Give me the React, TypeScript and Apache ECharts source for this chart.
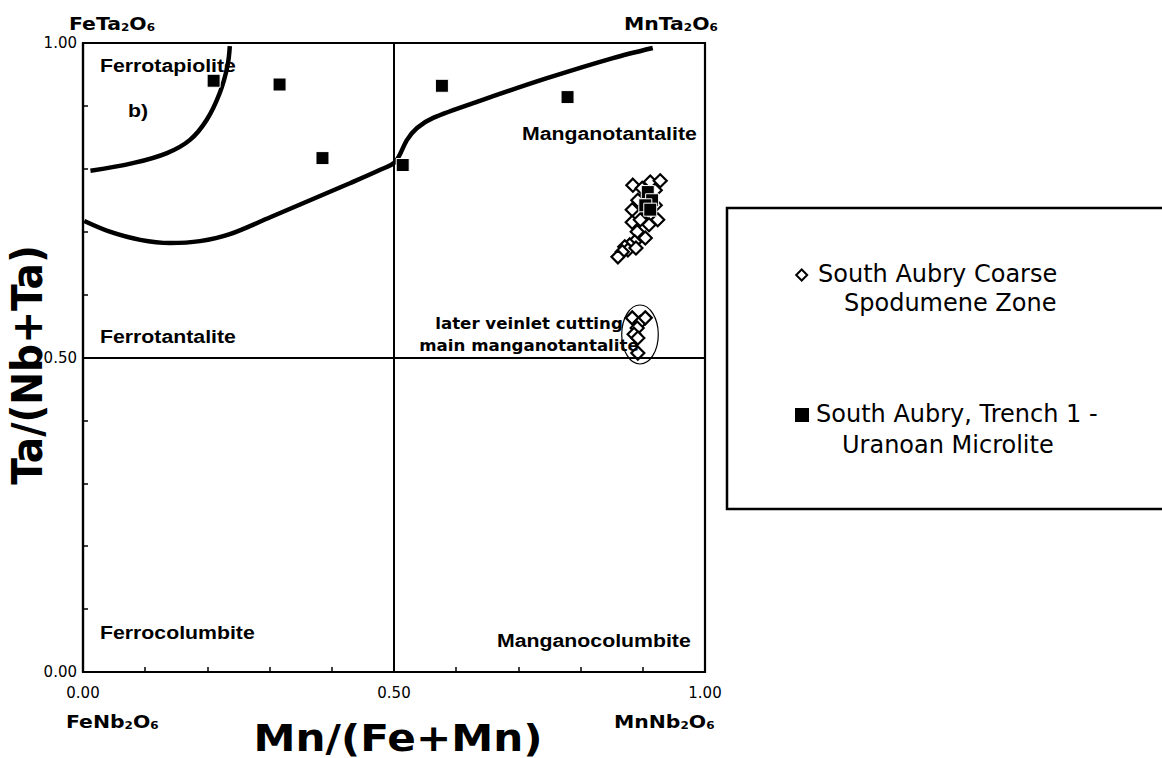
import React, { useEffect, useRef } from "react";
import * as echarts from "echarts";

// Axis tick labels shown on the 0.1 grid
const labelledTicks = [0, 0.5, 1];

// Tapiolite / columbite-tantalite field boundaries, [Mn/(Fe+Mn), Ta/(Nb+Ta)]
const tapioliteBoundary: number[][] = [
  [0.012, 0.797],
  [0.08, 0.809],
  [0.135, 0.825],
  [0.172, 0.846],
  [0.199, 0.878],
  [0.22, 0.921],
  [0.232, 0.962],
  [0.236, 0.995],
];

const tantaliteBoundary: number[][] = [
  [0.002, 0.717],
  [0.043, 0.7],
  [0.092, 0.687],
  [0.14, 0.682],
  [0.188, 0.685],
  [0.236, 0.696],
  [0.301, 0.723],
  [0.365, 0.75],
  [0.429, 0.777],
  [0.477, 0.798],
  [0.502, 0.811],
  [0.521, 0.846],
  [0.537, 0.865],
  [0.563, 0.881],
  [0.638, 0.908],
  [0.746, 0.944],
  [0.852, 0.976],
  [0.916, 0.992],
];

// South Aubry Coarse Spodumene Zone
const coarseSpodumene: number[][] = [
  [0.884, 0.774],
  [0.899, 0.769],
  [0.912, 0.779],
  [0.928, 0.781],
  [0.92, 0.766],
  [0.905, 0.757],
  [0.892, 0.75],
  [0.92, 0.742],
  [0.883, 0.735],
  [0.904, 0.735],
  [0.912, 0.727],
  [0.924, 0.719],
  [0.883, 0.715],
  [0.896, 0.719],
  [0.91, 0.711],
  [0.891, 0.7],
  [0.904, 0.69],
  [0.887, 0.684],
  [0.879, 0.679],
  [0.871, 0.676],
  [0.876, 0.671],
  [0.867, 0.668],
  [0.86, 0.66],
  [0.889, 0.674],
  // later veinlet
  [0.883, 0.563],
  [0.896, 0.556],
  [0.904, 0.563],
  [0.891, 0.547],
  [0.886, 0.537],
  [0.892, 0.531],
  [0.892, 0.507],
];

// South Aubry, Trench 1 - Uranoan Microlite
const trenchMicrolite: number[][] = [
  [0.21, 0.94],
  [0.316, 0.934],
  [0.385, 0.817],
  [0.514, 0.806],
  [0.577, 0.932],
  [0.779, 0.914],
  [0.908, 0.763],
  [0.915, 0.75],
  [0.904, 0.742],
  [0.912, 0.735],
];

// Later veinlet outline: centre x, centre y, radius x, radius y
const veinletOutline: number[][] = [[0.8955, 0.5366, 0.0294, 0.0469]];

const BOLD = "DejaVu Sans";
const ARIAL = "Liberation Sans";

function txt(x: number, y: number, text: string, opts: any = {}) {
  return {
    type: "text",
    x,
    y,
    rotation: opts.rotation || 0,
    scaleX: opts.scaleX || 1,
    scaleY: opts.scaleY || 1,
    style: {
      text,
      fill: "#000",
      fontFamily: opts.fontFamily || ARIAL,
      fontSize: opts.fontSize || 19,
      fontWeight: opts.fontWeight || "bold",
      align: opts.align || "left",
      verticalAlign: "middle",
      textAlign: opts.align || "left",
      textVerticalAlign: "middle",
      rich: opts.rich,
    },
    z: 100,
  };
}

const formulaRich = {
  b: { fontFamily: BOLD, fontWeight: "bold", fontSize: 17, lineHeight: 22, verticalAlign: "bottom" },
  s: { fontFamily: BOLD, fontWeight: "bold", fontSize: 10, lineHeight: 16, verticalAlign: "bottom" },
};

function formula(x: number, y: number, a: string) {
  return txt(x, y, `{b|${a}}{s|2}{b|O}{s|6}`, { rich: formulaRich, align: "left", scaleX: 1.2 });
}

function field(x: number, y: number, text: string) {
  return txt(x, y, text, { fontSize: 19, scaleX: 1.12 });
}

export default function App() {
  const ref = useRef<HTMLDivElement>(null);

  useEffect(() => {
    if (!ref.current) return;
    const chart = echarts.init(ref.current, null, { renderer: "svg" });

    const tickLabel = (v: number) =>
      labelledTicks.some((t) => Math.abs(v - t) < 1e-6) ? v.toFixed(2) : "";

    const axisCommon = {
      type: "value",
      min: 0,
      max: 1,
      interval: 0.1,
      axisLine: { show: true, onZero: false, lineStyle: { color: "#000", width: 2.2 } },
      axisTick: { show: true, inside: true, length: 5, lineStyle: { color: "#000", width: 1.5 } },
      splitLine: { show: false },
      axisLabel: {
        formatter: tickLabel,
        color: "#000",
        fontFamily: "DejaVu Sans",
        fontSize: 15,
      },
    };

    const option: any = {
      animation: false,
      backgroundColor: "#fff",
      grid: {
        left: 83,
        top: 43,
        width: 622,
        height: 629,
        show: true,
        borderColor: "#000",
        borderWidth: 2.2,
        backgroundColor: "transparent",
      },
      xAxis: { ...axisCommon, axisLabel: { ...axisCommon.axisLabel, margin: 13 } },
      yAxis: { ...axisCommon, axisLabel: { ...axisCommon.axisLabel, margin: 6 } },
      series: [
        {
          type: "line",
          data: tapioliteBoundary,
          smooth: 0.4,
          showSymbol: false,
          lineStyle: { color: "#000", width: 4.5 },
          silent: true,
          markLine: {
            silent: true,
            symbol: ["none", "none"],
            label: { show: false },
            lineStyle: { color: "#000", width: 2, type: "solid" },
            data: [{ xAxis: 0.5 }, { yAxis: 0.5 }],
          },
        },
        {
          type: "line",
          data: tantaliteBoundary,
          smooth: 0.3,
          showSymbol: false,
          lineStyle: { color: "#000", width: 4.5 },
          silent: true,
        },
        {
          name: "South Aubry Coarse Spodumene Zone",
          type: "scatter",
          data: coarseSpodumene,
          symbol: "diamond",
          symbolSize: 13,
          itemStyle: { color: "#fff", borderColor: "#000", borderWidth: 2.2, opacity: 1 },
          z: 3,
        },
        {
          name: "South Aubry, Trench 1 - Uranoan Microlite",
          type: "scatter",
          data: trenchMicrolite,
          symbol: "rect",
          symbolSize: 13,
          itemStyle: { color: "#000", borderColor: "#fff", borderWidth: 1, opacity: 1 },
          z: 4,
        },
        {
          type: "custom",
          data: veinletOutline,
          silent: true,
          z: 5,
          renderItem: (_p: any, api: any) => {
            const c = api.coord([api.value(0), api.value(1)]);
            const s = api.size([api.value(2), api.value(3)]);
            return {
              type: "ellipse",
              shape: { cx: c[0], cy: c[1], rx: s[0], ry: s[1] },
              style: { fill: "none", stroke: "#000", lineWidth: 1.2 },
            };
          },
        },
      ],
      graphic: [
        // field names
        field(100, 65, "Ferrotapiolite"),
        field(128, 110, "b)"),
        field(522, 133, "Manganotantalite"),
        field(100, 336, "Ferrotantalite"),
        field(100, 632, "Ferrocolumbite"),
        field(497, 640, "Manganocolumbite"),
        txt(529, 324, "later veinlet cutting", { fontFamily: BOLD, fontSize: 15, align: "center", scaleX: 1.11 }),
        txt(529, 346, "main manganotantalite", { fontFamily: BOLD, fontSize: 15, align: "center", scaleX: 1.11 }),
        // end-member corners
        formula(69, 22, "FeTa"),
        formula(624, 22, "MnTa"),
        formula(66, 720, "FeNb"),
        formula(614, 720, "MnNb"),
        // axis titles
        txt(398, 738, "Mn/(Fe+Mn)", { fontFamily: BOLD, fontSize: 37, align: "center", scaleX: 1.14 }),
        txt(28, 365, "Ta/(Nb+Ta)", {
          fontFamily: BOLD,
          fontSize: 38,
          align: "center",
          rotation: Math.PI / 2,
          scaleX: 1.03,
          scaleY: 1.1,
        }),
        // legend box
        {
          type: "rect",
          shape: { x: 727, y: 208, width: 500, height: 301 },
          style: { fill: "#fff", stroke: "#000", lineWidth: 2.5 },
          z: 90,
        },
        {
          type: "polygon",
          shape: { points: [[801.7, 269.5], [807.2, 275], [801.7, 280.5], [796.2, 275]] },
          style: { fill: "#fff", stroke: "#000", lineWidth: 2 },
          z: 100,
        },
        txt(818, 274, "South Aubry Coarse", { fontFamily: "DejaVu Sans", fontWeight: "normal", fontSize: 24 }),
        txt(844, 303, "Spodumene Zone", { fontFamily: "DejaVu Sans", fontWeight: "normal", fontSize: 24 }),
        {
          type: "rect",
          shape: { x: 795, y: 408, width: 14, height: 14 },
          style: { fill: "#000" },
          z: 100,
        },
        txt(816, 414, "South Aubry, Trench 1 -", { fontFamily: "DejaVu Sans", fontWeight: "normal", fontSize: 24 }),
        txt(842, 445, "Uranoan Microlite", { fontFamily: "DejaVu Sans", fontWeight: "normal", fontSize: 24 }),
      ],
    };

    chart.setOption(option);
    return () => chart.dispose();
  }, []);

  return (
    <div
      ref={ref}
      style={{ position: "absolute", left: 0, top: 0, width: 1162, height: 758, background: "#fff" }}
    />
  );
}
